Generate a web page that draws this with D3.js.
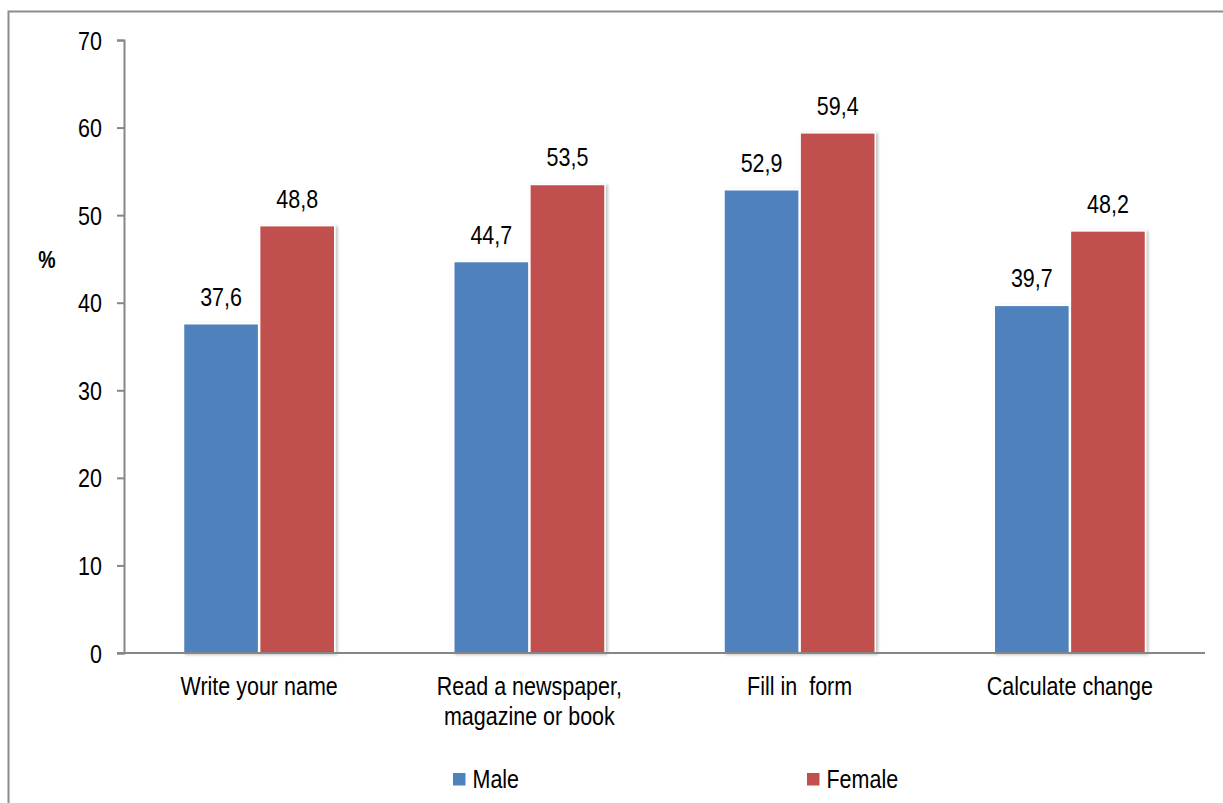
<!DOCTYPE html>
<html>
<head>
<meta charset="utf-8">
<script src="https://cdn.jsdelivr.net/npm/d3@7"></script>
<style>
  html, body { margin: 0; padding: 0; background: #fff; }
  svg { display: block; font-family: "Liberation Sans", Arial, sans-serif; }
  text { white-space: pre; }
</style>
</head>
<body>
<svg id="chart" width="1223" height="803"></svg>
<script>
// Share of respondents able to perform each task, by sex (%)
const categories = [["Write your name"], ["Read a newspaper,", "magazine or book"], ["Fill in  form"], ["Calculate change"]];
const seriesNames = ["Male", "Female"];
const maleValues = [37.6, 44.7, 52.9, 39.7];
const femaleValues = [48.8, 53.5, 59.4, 48.2];
const yTicks = [0, 10, 20, 30, 40, 50, 60, 70];
const colors = ["#4F81BD", "#C0504D"];

const svg = d3.select("#chart");
const W = 1223, H = 803;
const FS = 21.5;      // base font size
const SY = 1.18;      // slightly tall glyphs

// outer frame
svg.append("rect")
  .attr("x", 8.5).attr("y", 11.5)
  .attr("width", W + 10).attr("height", H + 10)
  .attr("fill", "none").attr("stroke", "#8c8c8c").attr("stroke-width", 2);

const plotLeft = 124, plotRight = 1205, plotTop = 40, plotBottom = 653;

const x0 = d3.scaleBand().domain(d3.range(categories.length)).range([plotLeft, plotRight]).paddingInner(0).paddingOuter(0);
const x1 = d3.scaleBand().domain([0, 1]).range([59, x0.bandwidth() - 59]).padding(0);
const y = d3.scaleLinear().domain([0, 70]).range([plotBottom, plotTop]);

const defs = svg.append("defs");
const f = defs.append("filter").attr("id", "shadow").attr("x", "-10%").attr("y", "-10%").attr("width", "130%").attr("height", "130%");
f.append("feDropShadow").attr("dx", 2).attr("dy", 1).attr("stdDeviation", 1.5).attr("flood-color", "#000").attr("flood-opacity", 0.25);

// text placed at (x, baseline y), stretched vertically
function label(parent, x, yb, str, anchor, size, weight) {
  return parent.append("text")
    .attr("transform", `translate(${x},${yb}) scale(1,${SY})`)
    .attr("text-anchor", anchor || "middle")
    .attr("font-size", size || FS)
    .attr("font-weight", weight || "normal")
    .attr("fill", "#000")
    .text(str);
}

// y axis
const yAxis = d3.axisLeft(y).tickValues(yTicks).tickSize(7).tickSizeOuter(7).tickPadding(14).tickFormat(d3.format("d"));
const ya = svg.append("g").attr("transform", `translate(${plotLeft},0)`).call(yAxis);
ya.select(".domain").attr("stroke", "#868686").attr("stroke-width", 2);
ya.selectAll(".tick line").attr("stroke", "#868686").attr("stroke-width", 2);
ya.selectAll(".tick text")
  .attr("font-size", FS).attr("fill", "#000")
  .attr("font-family", "Liberation Sans, Arial, sans-serif")
  .attr("x", -22).attr("dy", "0.36em")
  .attr("transform", `scale(1,${SY})`);

// "%" axis title
label(svg, 47, 268, "%", "middle", 19.5, "bold");

const data = categories.map((c, i) => ({ i, vals: [maleValues[i], femaleValues[i]] }));

const groups = svg.append("g").selectAll("g").data(data).join("g")
  .attr("transform", d => `translate(${x0(d.i)},0)`);

groups.selectAll("rect").data(d => d.vals.map((v, s) => ({ v, s }))).join("rect")
  .attr("x", d => x1(d.s) + 0.5)
  .attr("y", d => y(d.v))
  .attr("width", x1.bandwidth() - 1)
  .attr("height", d => y(0) - y(d.v))
  .attr("fill", d => colors[d.s])
  .attr("stroke", "#fff").attr("stroke-width", 1.5)
  .attr("filter", "url(#shadow)");

// value labels
groups.each(function(d) {
  const g = d3.select(this);
  d.vals.forEach((v, s) => {
    label(g, x1(s) + x1.bandwidth() / 2, y(v) - 18, d3.format(".1f")(v).replace(".", ","));
  });
});

// x axis
svg.append("line").attr("x1", plotLeft - 7).attr("x2", plotRight).attr("y1", plotBottom).attr("y2", plotBottom)
  .attr("stroke", "#868686").attr("stroke-width", 2);

const xlab = svg.append("g");
categories.forEach((lines, i) => {
  const cx = x0(i) + x0.bandwidth() / 2;
  lines.forEach((ln, j) => label(xlab, cx, 695 + j * 30, ln));
});

// legend
const legendX = [453, 807];
const lg = svg.append("g");
seriesNames.forEach((name, i) => {
  lg.append("rect").attr("x", legendX[i]).attr("y", 773).attr("width", 12.5).attr("height", 12.5).attr("fill", colors[i]);
  label(lg, legendX[i] + 19.5, 788, name, "start");
});
</script>
</body>
</html>
